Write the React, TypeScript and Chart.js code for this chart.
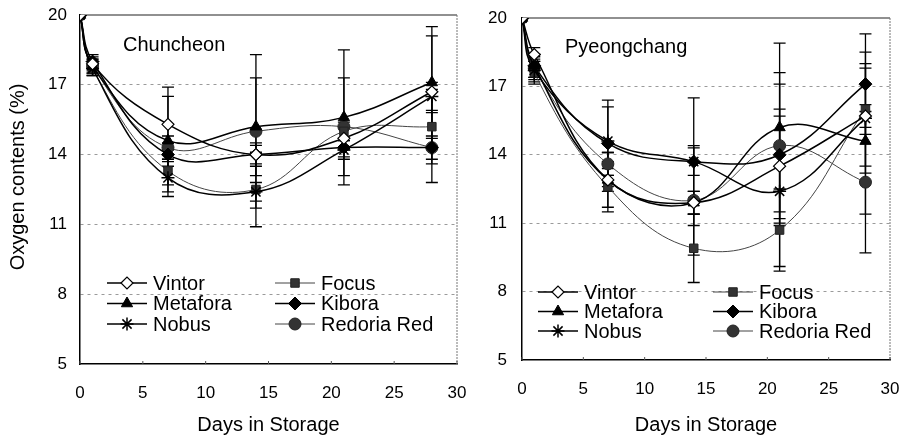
import React, { useEffect, useRef } from 'react';
import { Chart, registerables } from 'chart.js';
import { drawPoint } from 'chart.js/helpers';

Chart.register(...registerables);

// ---------- DATA ----------
const days = [0, 1, 7, 14, 21, 28];
const xTickValues = [0, 5, 10, 15, 20, 25, 30];
const yTickValues = [5, 8, 11, 14, 17, 20];
const cultivars = ['Vintor', 'Metafora', 'Nobus', 'Focus', 'Kibora', 'Redoria Red'];
const xAxisTitle = 'Days in Storage';
const yAxisTitle = 'Oxygen contents (%)';

// Chuncheon means (%)
const chVintor = [20, 17.9, 15.3, 14.0, 14.7, 16.7];
const chMetafora = [20, 17.8, 14.6, 15.2, 15.6, 17.1];
const chNobus = [20, 17.7, 13.0, 12.4, 14.2, 16.5];
const chFocus = [20, 17.7, 13.3, 12.5, 15.0, 15.2];
const chKibora = [20, 18.0, 14.0, 14.0, 14.3, 14.3];
const chRedoria = [20, 17.8, 14.3, 15.0, 15.2, 14.3];

// Chuncheon error (+/-)
const chVintorErr = [0, 0.3, 1.6, 0.5, 0.5, 2.4];
const chMetaforaErr = [0, 0.3, 1.9, 2.1, 2.9, 2.4];
const chNobusErr = [0, 0.3, 0.8, 0.4, 0.4, 0.6];
const chFocusErr = [0, 0.3, 0.9, 1.6, 0.4, 1.6];
const chKiboraErr = [0, 0.3, 0.5, 0.4, 0.4, 1.5];
const chRedoriaErr = [0, 0.3, 0.5, 3.3, 2.1, 0.5];

// Pyeongchang means (%)
const pyVintor = [20, 18.4, 12.9, 11.9, 13.5, 15.7];
const pyMetafora = [20, 17.9, 12.9, 11.9, 15.2, 14.6];
const pyNobus = [20, 17.7, 14.6, 13.7, 12.4, 15.6];
const pyFocus = [20, 17.6, 12.6, 9.9, 10.7, 16.0];
const pyKibora = [20, 17.9, 14.5, 13.7, 14.0, 17.1];
const pyRedoria = [20, 17.8, 13.6, 12.0, 14.4, 12.8];

// Pyeongchang error (+/-)
const pyVintorErr = [0, 0.3, 0.5, 0.5, 2.5, 0.5];
const pyMetaforaErr = [0, 0.5, 1.2, 0.5, 3.7, 3.2];
const pyNobusErr = [0, 0.5, 1.5, 0.6, 3.3, 2.4];
const pyFocusErr = [0, 0.5, 1.1, 1.5, 1.8, 2.5];
const pyKiboraErr = [0, 0.5, 1.9, 2.8, 3.1, 2.2];
const pyRedoriaErr = [0, 0.5, 0.5, 2.4, 3.2, 3.1];

// ---------- STYLES ----------
const FONT = "'Liberation Sans', Arial, Helvetica, sans-serif";
const seriesStyles = [
  { pointStyle: 'rectRot', fill: '#ffffff', stroke: '#000', lineColor: '#000', lineWidth: 1.5, radius: 6, pbw: 1.2 },
  { pointStyle: 'triangle', fill: '#000', stroke: '#000', lineColor: '#000', lineWidth: 1.5, radius: 6.5, pbw: 1 },
  { pointStyle: 'star', fill: '#000', stroke: '#000', lineColor: '#000', lineWidth: 1.5, radius: 6.5, pbw: 1.5 },
  { pointStyle: 'rect', fill: '#333', stroke: '#222', lineColor: '#444', lineWidth: 1, radius: 6, pbw: 1 },
  { pointStyle: 'rectRot', fill: '#000', stroke: '#000', lineColor: '#000', lineWidth: 1.5, radius: 6.5, pbw: 1 },
  { pointStyle: 'circle', fill: '#333', stroke: '#222', lineColor: '#444', lineWidth: 1, radius: 6, pbw: 1 },
];

type PanelCfg = {
  title: string;
  values: number[][];
  errors: number[][];
  width: number;
  height: number;
  yW: number;
  xH: number;
  padRight: number;
  padTop: number;
  yTickPad: number;
  showYTitle: boolean;
  titleDx: number;
  titleDy: number;
  legCol: number[];
  legRow0: number;
  legRowH: number;
};

function buildChart(canvas: HTMLCanvasElement, P: PanelCfg) {
  const datasets = P.values.map((vals, si) => {
    const st = seriesStyles[si];
    return {
      label: cultivars[si],
      data: days.map((d, i) => ({ x: d, y: vals[i] })),
      errors: P.errors[si],
      borderColor: st.lineColor,
      borderWidth: st.lineWidth,
      tension: 0.4,
      fill: false,
      pointStyle: st.pointStyle,
      pointRadius: st.radius,
      pointBackgroundColor: st.fill,
      pointBorderColor: st.stroke,
      pointBorderWidth: st.pbw,
    } as any;
  });

  const errorBars = {
    id: 'errorBars',
    beforeDatasetsDraw(chart: any) {
      const { ctx, scales } = chart;
      const x = scales.x, y = scales.y;
      ctx.save();
      ctx.strokeStyle = '#000';
      ctx.lineWidth = 1.3;
      chart.data.datasets.forEach((ds: any) => {
        ds.data.forEach((p: any, i: number) => {
          const e = ds.errors[i];
          if (!e) return;
          const px = x.getPixelForValue(p.x);
          const yt = y.getPixelForValue(p.y + e);
          const yb = y.getPixelForValue(p.y - e);
          ctx.beginPath();
          ctx.moveTo(px, yt); ctx.lineTo(px, yb);
          ctx.moveTo(px - 6, yt); ctx.lineTo(px + 6, yt);
          ctx.moveTo(px - 6, yb); ctx.lineTo(px + 6, yb);
          ctx.stroke();
        });
      });
      ctx.restore();
    },
  };

  const frame = {
    id: 'frame',
    beforeDatasetsDraw(chart: any) {
      const { ctx, chartArea: ca, scales } = chart;
      ctx.save();
      ctx.strokeStyle = '#222';
      ctx.lineWidth = 1.2;
      ctx.beginPath();
      ctx.moveTo(ca.left, ca.top); ctx.lineTo(ca.right, ca.top);
      ctx.stroke();
      ctx.strokeStyle = '#777';
      ctx.lineWidth = 1;
      ctx.setLineDash([2, 1]);
      ctx.beginPath();
      ctx.moveTo(ca.right, ca.top); ctx.lineTo(ca.right, ca.bottom);
      ctx.stroke();
      ctx.setLineDash([]);
      ctx.strokeStyle = '#555';
      ctx.beginPath();
      xTickValues.forEach((v) => {
        const px = scales.x.getPixelForValue(v);
        ctx.moveTo(px, ca.bottom); ctx.lineTo(px, ca.bottom - 3);
      });
      ctx.stroke();
      ctx.restore();
    },
  };

  const overlay = {
    id: 'overlay',
    afterDraw(chart: any) {
      const { ctx, chartArea: ca } = chart;
      ctx.save();
      ctx.fillStyle = '#000';
      ctx.font = `20px ${FONT}`;
      ctx.textBaseline = 'middle';
      ctx.textAlign = 'left';
      ctx.fillText(P.title, ca.left + P.titleDx, ca.top + P.titleDy);
      if (P.showYTitle) {
        ctx.save();
        ctx.translate(18, 177);
        ctx.rotate(-Math.PI / 2);
        ctx.textAlign = 'center';
        ctx.fillText(yAxisTitle, 0, 0);
        ctx.restore();
      }
      cultivars.forEach((name, i) => {
        const st = seriesStyles[i];
        const col = i < 3 ? 0 : 1;
        const row = i % 3;
        const x0 = ca.left + P.legCol[col];
        const yy = ca.top + P.legRow0 + row * P.legRowH;
        ctx.strokeStyle = st.lineColor;
        ctx.lineWidth = st.lineWidth;
        ctx.beginPath();
        ctx.moveTo(x0, yy); ctx.lineTo(x0 + 40, yy);
        ctx.stroke();
        ctx.fillStyle = st.fill;
        ctx.strokeStyle = st.stroke;
        ctx.lineWidth = st.pbw;
        drawPoint(ctx, { pointStyle: st.pointStyle as any, rotation: 0, radius: st.radius, borderWidth: st.pbw }, x0 + 20, yy);
        ctx.fillStyle = '#000';
        ctx.textAlign = 'left';
        ctx.fillText(name, x0 + 46, yy + 1);
      });
      ctx.restore();
    },
  };

  return new Chart(canvas, {
    type: 'line',
    data: { datasets },
    options: {
      responsive: false,
      maintainAspectRatio: false,
      animation: false,
      layout: { padding: { left: 0, right: P.padRight, top: P.padTop, bottom: 0 } },
      plugins: { legend: { display: false }, tooltip: { enabled: false } },
      scales: {
        x: {
          type: 'linear',
          min: 0,
          max: 30,
          afterBuildTicks: (s: any) => { s.ticks = xTickValues.map((v) => ({ value: v })); },
          afterFit: (s: any) => { s.height = P.xH; s.paddingLeft = 0; s.paddingRight = 0; },
          grid: { display: false, drawTicks: false },
          border: { color: '#000', width: 1.5 },
          ticks: { padding: 19, font: { size: 17, family: FONT }, color: '#000', maxRotation: 0, autoSkip: false },
          title: { display: true, text: xAxisTitle, font: { size: 20, family: FONT }, color: '#000', padding: { top: 0, bottom: 1 } },
        },
        y: {
          type: 'linear',
          min: 5,
          max: 20,
          afterBuildTicks: (s: any) => { s.ticks = yTickValues.map((v) => ({ value: v })); },
          afterFit: (s: any) => { s.width = P.yW; s.paddingTop = 0; s.paddingBottom = 0; },
          grid: {
            drawTicks: false,
            lineWidth: 1,
            color: (c: any) => (c.tick && (c.tick.value === 5 || c.tick.value === 20) ? 'rgba(0,0,0,0)' : '#9a9a9a'),
          },
          border: { color: '#000', width: 1.5, dash: [3, 4] },
          ticks: { padding: P.yTickPad, font: { size: 17, family: FONT }, color: '#000' },
          title: { display: false },
        },
      },
    } as any,
    plugins: [errorBars, frame, overlay],
  });
}

const leftCfg: PanelCfg = {
  title: 'Chuncheon',
  values: [chVintor, chMetafora, chNobus, chFocus, chKibora, chRedoria],
  errors: [chVintorErr, chMetaforaErr, chNobusErr, chFocusErr, chKiboraErr, chRedoriaErr],
  width: 480, height: 438, yW: 80, xH: 74, padRight: 23, padTop: 15, yTickPad: 13, showYTitle: true,
  titleDx: 43, titleDy: 30, legCol: [27, 195], legRow0: 268, legRowH: 20.5,
};

const rightCfg: PanelCfg = {
  title: 'Pyeongchang',
  values: [pyVintor, pyMetafora, pyNobus, pyFocus, pyKibora, pyRedoria],
  errors: [pyVintorErr, pyMetaforaErr, pyNobusErr, pyFocusErr, pyKiboraErr, pyRedoriaErr],
  width: 438, height: 438, yW: 57, xH: 78, padRight: 13, padTop: 18, yTickPad: 15, showYTitle: false,
  titleDx: 43, titleDy: 29, legCol: [16, 191], legRow0: 274, legRowH: 19.5,
};

function Panel({ cfg, left }: { cfg: PanelCfg; left: number }) {
  const ref = useRef<HTMLCanvasElement | null>(null);
  useEffect(() => {
    if (!ref.current) return;
    const chart = buildChart(ref.current, cfg);
    return () => chart.destroy();
  }, [cfg]);
  return (
    <canvas
      ref={ref}
      width={cfg.width}
      height={cfg.height}
      style={{ position: 'absolute', left, top: 0, width: cfg.width, height: cfg.height }}
    />
  );
}

export default function App() {
  return (
    <div style={{ position: 'absolute', left: 0, top: 0, width: 903, height: 438, background: '#fff' }}>
      <Panel cfg={leftCfg} left={0} />
      <Panel cfg={rightCfg} left={465} />
    </div>
  );
}
